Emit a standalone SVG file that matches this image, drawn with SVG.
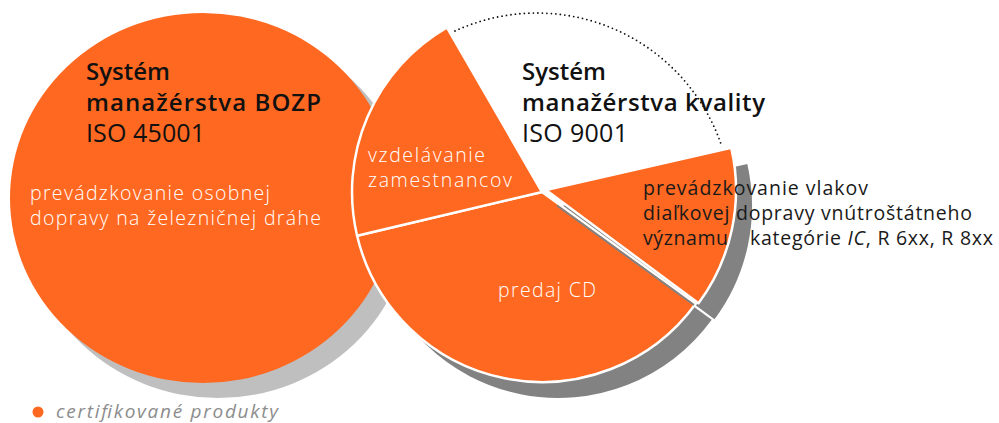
<svg xmlns="http://www.w3.org/2000/svg" width="999" height="423" viewBox="0 0 999 423">
<style>
.orange{fill:#FF6820}
.slice{fill:#FF6820;stroke:#FFFFFF;stroke-width:2.5;stroke-linejoin:round}
.sh1{fill:#BFBFBF}
.sh2{fill:#828282}
.t{font-family:"Open Sans","Liberation Sans",sans-serif}
.title{font-size:24px;font-weight:600;fill:#111111}
.iso{font-size:25px;font-weight:400;fill:#111111}
.wl{font-size:19.5px;font-weight:300;fill:#FFFFFF}
.bl{font-size:19.5px;font-weight:400;fill:#1a1a1a}
.leg{font-size:19px;font-style:italic;fill:#8C8C8C}
</style>
<g id="node-bozp">
<ellipse class="sh1" cx="218" cy="213" rx="193" ry="185"/>
<ellipse class="orange" cx="203" cy="198" rx="193" ry="185"/>
</g>
<g id="node-kvalita">
<path class="sh2" d="M542,192 L695.7,303.7 A190,190 0 0,1 357.1,235.7 Z" transform="translate(16,16)"/>
<path class="sh2" d="M546,190 L731.3,147.9 A190,190 0 0,1 698.5,303.3 Z" transform="translate(16,16)"/>
<path id="slice-predaj" class="slice" d="M542,192 L695.7,303.7 A190,190 0 0,1 357.1,235.7 Z"/>
<path id="slice-vzdelavanie" class="slice" d="M542,192 L357.1,235.7 A190,190 0 0,1 447,27.5 Z"/>
<path id="slice-prevadzkovanie" class="slice" d="M546,190 L731.3,147.9 A190,190 0 0,1 698.5,303.3 Z"/>
<line x1="557" y1="205.5" x2="694" y2="305" stroke="#828282" stroke-width="2"/>
<path d="M455,31 A195,195 0 0,1 722,147" fill="none" stroke="#111111" stroke-width="1.8" stroke-linecap="round" stroke-dasharray="0 4.5"/>
</g>
<g id="labels-bozp" class="t">
<text class="title" x="86" y="80">Systém</text>
<text class="title" x="86" y="111" textLength="235">manažérstva BOZP</text>
<text class="iso" x="86" y="142" textLength="119">ISO 45001</text>
<text class="wl" x="30" y="200" textLength="240">prevádzkovanie osobnej</text>
<text class="wl" x="30" y="225" textLength="291">dopravy na železničnej dráhe</text>
</g>
<g id="labels-kvalita" class="t">
<text class="title" x="522" y="80">Systém</text>
<text class="title" x="522" y="111" textLength="243">manažérstva kvality</text>
<text class="iso" x="522" y="142" textLength="106">ISO 9001</text>
<text class="wl" x="368" y="162" textLength="117">vzdelávanie</text>
<text class="wl" x="368" y="187" textLength="144">zamestnancov</text>
<text class="wl" x="498" y="297" textLength="98">predaj CD</text>
<text class="bl" x="643" y="195" textLength="225">prevádzkovanie vlakov</text>
<text class="bl" x="643" y="220" textLength="329">diaľkovej dopravy vnútroštátneho</text>
<text class="bl" x="643" y="245" textLength="85">významu</text>
<text class="bl" x="750" y="245" textLength="243">kategórie <tspan font-style="italic">IC</tspan>, R 6xx, R 8xx</text>
</g>
<g id="legend" class="t">
<circle class="orange" cx="38" cy="412" r="5.5"/>
<text class="leg" x="56" y="418" textLength="222">certifikované produkty</text>
</g>
</svg>
